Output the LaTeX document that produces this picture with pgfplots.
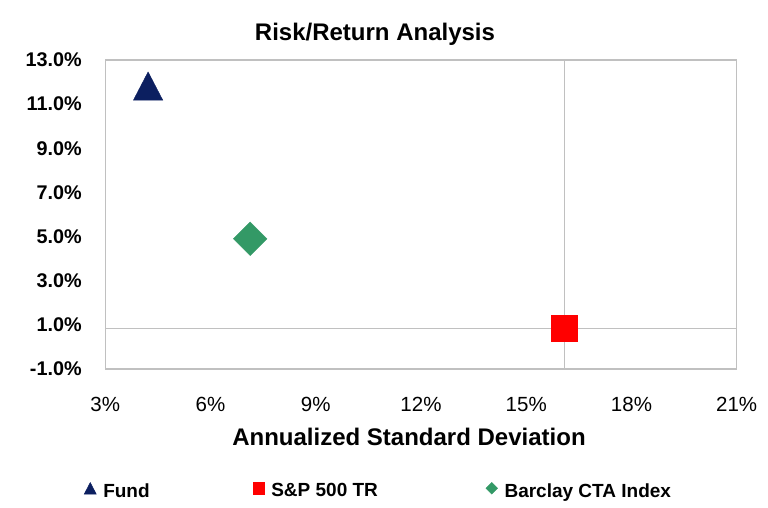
\documentclass[border=0pt]{standalone}
\usepackage{pgfplots}
\pgfplotsset{compat=1.18}
\usepackage{fontspec}
\setmainfont{Liberation Sans}
\definecolor{fundnavy}{HTML}{0C1F60}
\definecolor{spred}{HTML}{FF0000}
\definecolor{ctagreen}{HTML}{339966}
\definecolor{framegray}{HTML}{C0C0C0}
\pgfdeclareplotmark{xtri}{%
  \pgfpathmoveto{\pgfqpoint{0pt}{\pgfplotmarksize}}%
  \pgfpathlineto{\pgfqpoint{1.04\pgfplotmarksize}{-\pgfplotmarksize}}%
  \pgfpathlineto{\pgfqpoint{-1.04\pgfplotmarksize}{-\pgfplotmarksize}}%
  \pgfpathclose\pgfusepathqfillstroke}
\pgfdeclareplotmark{xdia}{%
  \pgfpathmoveto{\pgfqpoint{0pt}{\pgfplotmarksize}}%
  \pgfpathlineto{\pgfqpoint{\pgfplotmarksize}{0pt}}%
  \pgfpathlineto{\pgfqpoint{0pt}{-\pgfplotmarksize}}%
  \pgfpathlineto{\pgfqpoint{-\pgfplotmarksize}{0pt}}%
  \pgfpathclose\pgfusepathqfillstroke}
\begin{document}
\begin{tikzpicture}[x=1pt,y=1pt]
\useasboundingbox (0,0) rectangle (768,508);
\begin{axis}[
  at={(105.3pt,139pt)}, anchor=south west,
  scale only axis, width=631.4pt, height=309pt,
  xmin=3, xmax=21, ymin=-1, ymax=13,
  xtick={3,6,9,12,15,18,21},
  xticklabels={3\%,6\%,9\%,12\%,15\%,18\%,21\%},
  ytick={-1,1,3,5,7,9,11,13},
  yticklabels={-1.0\%,1.0\%,3.0\%,5.0\%,7.0\%,9.0\%,11.0\%,13.0\%},
  major tick length=0pt, tick style={draw=none},
  axis line style={draw=framegray, line width=1.5pt},
  xticklabel style={font=\fontsize{20.5}{23}\selectfont, anchor=base, inner sep=0pt, yshift=-43pt},
  yticklabel style={font=\fontsize{19.8}{22}\selectfont\bfseries, anchor=east, inner sep=0pt, xshift=-23.4pt},
  clip=false,
  legend columns=3,
  legend style={at={(axis description cs:-0.0337,-0.379)}, anchor=west, draw=none, fill=none, inner sep=0pt,
    font=\fontsize{19}{22}\selectfont\bfseries, nodes={inner sep=0pt},
    /tikz/every odd column/.append style={column sep=7pt},
    /tikz/column 2/.style={column sep=103pt},
    /tikz/column 4/.style={column sep=108pt}},
  legend image code/.code={\path (6pt,17pt); \draw[#1, mark size=5.8pt] plot coordinates {(6pt,2.6pt)};},
]
\addplot[framegray, line width=0.8pt, forget plot] coordinates {(16.09,-1) (16.09,13)};
\addplot[framegray, line width=0.8pt, forget plot] coordinates {(3,0.84) (21,0.84)};
\addplot[only marks, mark=xtri, mark size=14.1pt, color=fundnavy, fill=fundnavy] coordinates {(4.22,11.82)};
\addlegendentry{Fund}
\addplot[only marks, mark=square*, mark size=13.2pt, color=spred, fill=spred] coordinates {(16.09,0.84)};
\addlegendentry{S\&P 500 TR}
\addplot[only marks, mark=xdia, mark size=16.8pt, color=ctagreen, fill=ctagreen] coordinates {(7.13,4.90)};
\addlegendentry{Barclay CTA Index}
\end{axis}
\node[font=\fontsize{24}{28}\selectfont\bfseries, anchor=base] at (375,467.3) {Risk/Return Analysis};
\node[font=\fontsize{24}{28}\selectfont\bfseries, anchor=base] at (409,62) {Annualized Standard Deviation};
\end{tikzpicture}
\end{document}
